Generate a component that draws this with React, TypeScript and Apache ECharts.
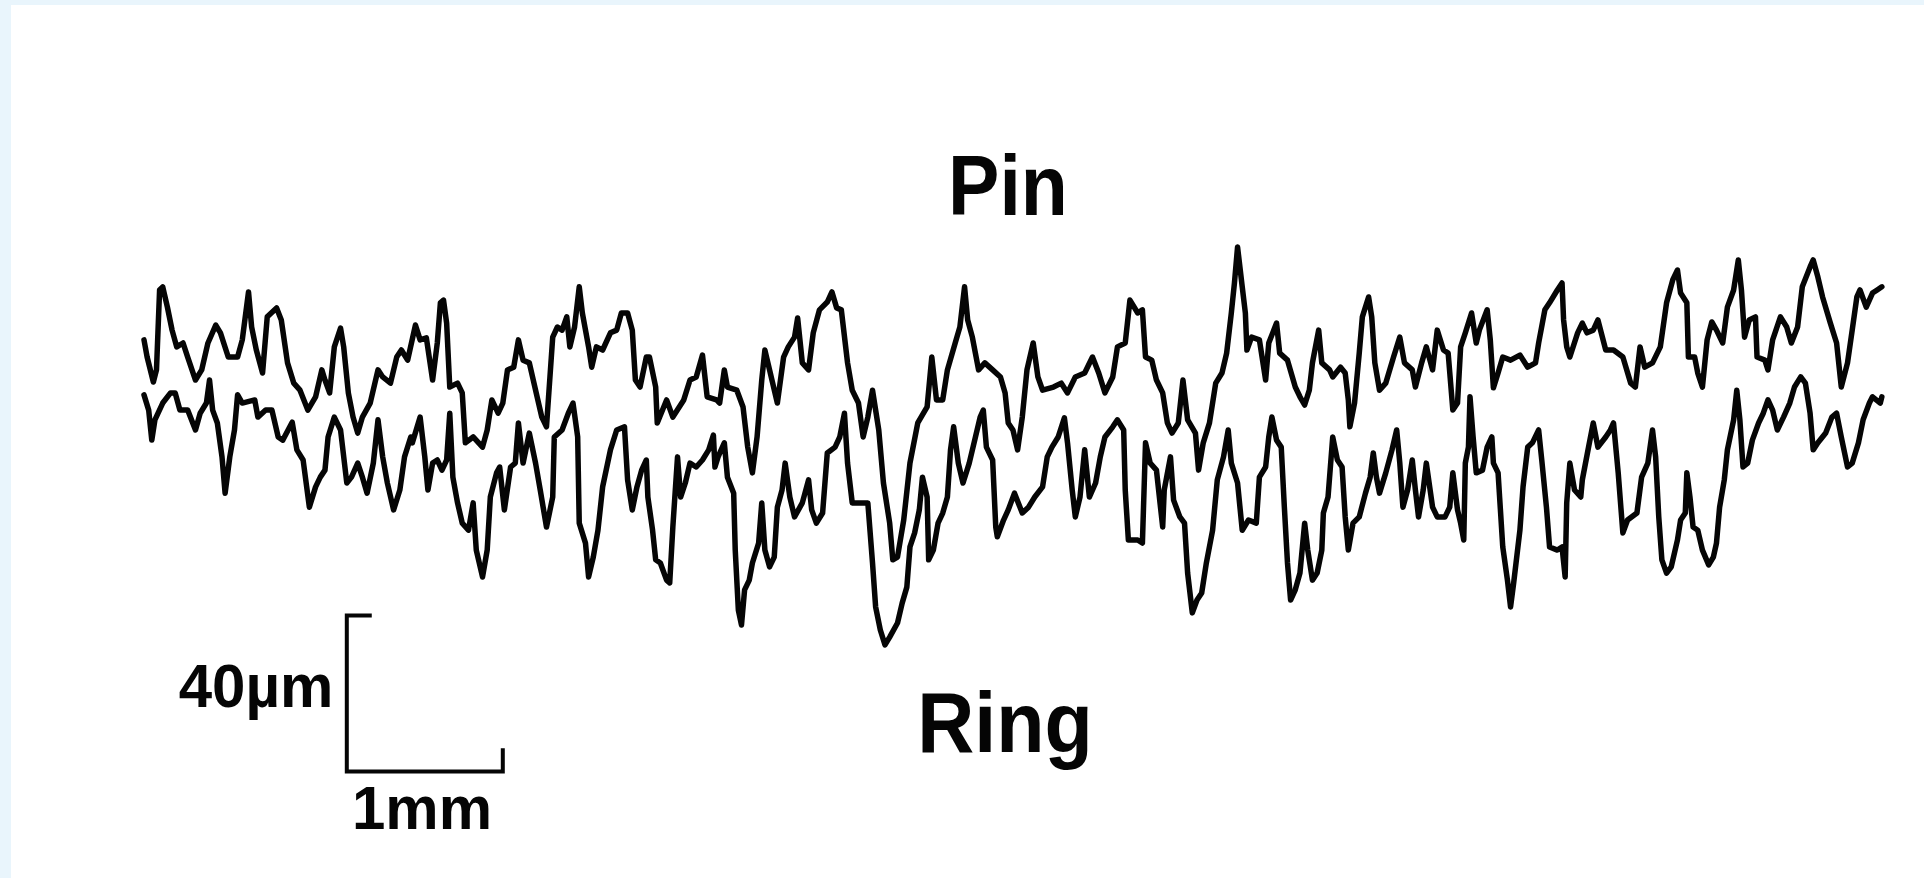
import React, { useEffect, useRef } from "react";
import * as echarts from "echarts";

// Surface roughness profiles: x = distance (mm), y = height (µm)
const pinProfile: [number, number][] = [
  [0.00, 66.7], [0.02, 62.3], [0.06, 55.9], [0.08, 59.0], [0.10, 79.5], [0.12, 80.3], [0.15, 75.1], [0.18, 69.2],
  [0.21, 64.9], [0.25, 65.9], [0.28, 62.3], [0.33, 56.4], [0.37, 59.0], [0.41, 65.9], [0.46, 70.5], [0.49, 68.5],
  [0.54, 62.3], [0.60, 62.3], [0.63, 66.7], [0.67, 79.0], [0.69, 70.0], [0.72, 64.1], [0.76, 58.2], [0.79, 72.6],
  [0.85, 74.9], [0.88, 71.8], [0.92, 60.8], [0.96, 55.6], [1.00, 53.8], [1.05, 48.7], [1.10, 52.1], [1.14, 59.0],
  [1.16, 56.4], [1.19, 53.1], [1.22, 64.9], [1.26, 69.7], [1.28, 64.9], [1.31, 53.1], [1.34, 46.9], [1.37, 42.8],
  [1.40, 46.9], [1.45, 50.5], [1.50, 59.0], [1.53, 57.2], [1.58, 55.6], [1.62, 62.3], [1.65, 64.1], [1.69, 61.5],
  [1.74, 70.5], [1.77, 66.7], [1.81, 67.2], [1.85, 56.4], [1.88, 65.9], [1.90, 76.2], [1.92, 76.9], [1.94, 71.0],
  [1.96, 54.6], [2.01, 55.6], [2.04, 53.1], [2.06, 40.3], [2.11, 41.8], [2.17, 39.2], [2.20, 43.6], [2.23, 51.3],
  [2.27, 47.9], [2.30, 50.5], [2.33, 59.0], [2.37, 59.7], [2.40, 66.7], [2.43, 61.5], [2.47, 60.8], [2.52, 52.1],
  [2.55, 46.9], [2.58, 44.4], [2.62, 67.4], [2.65, 70.0], [2.68, 69.2], [2.71, 72.6], [2.73, 64.9], [2.76, 70.0],
  [2.79, 80.3], [2.81, 73.6], [2.85, 64.9], [2.87, 59.7], [2.90, 64.9], [2.94, 64.1], [2.99, 68.5], [3.03, 69.2],
  [3.06, 73.6], [3.10, 73.6], [3.13, 69.2], [3.15, 56.4], [3.18, 54.6], [3.22, 62.3], [3.24, 62.3], [3.28, 54.6],
  [3.29, 45.4], [3.35, 51.3], [3.39, 46.9], [3.46, 51.3], [3.50, 56.4], [3.54, 57.2], [3.58, 62.8], [3.61, 52.1],
  [3.67, 51.3], [3.69, 50.5], [3.72, 59.0], [3.74, 54.6], [3.80, 53.8], [3.84, 49.5], [3.87, 39.2], [3.90, 32.6],
  [3.93, 41.8], [3.96, 56.4], [3.98, 64.1], [4.01, 59.0], [4.06, 50.5], [4.10, 62.3], [4.13, 64.9], [4.17, 67.4],
  [4.19, 72.3], [4.22, 60.8], [4.26, 59.0], [4.29, 68.5], [4.33, 74.4], [4.38, 76.4], [4.41, 79.0], [4.44, 74.9],
  [4.47, 74.4], [4.51, 60.8], [4.54, 53.8], [4.58, 50.5], [4.61, 41.8], [4.64, 46.9], [4.67, 53.8], [4.71, 43.6],
  [4.74, 30.0], [4.78, 19.7], [4.80, 10.3], [4.83, 11.0], [4.87, 20.5], [4.91, 35.1], [4.96, 45.4], [5.02, 49.5],
  [5.05, 62.3], [5.08, 51.3], [5.12, 51.3], [5.15, 59.0], [5.20, 65.9], [5.23, 70.0], [5.26, 80.3], [5.28, 71.8],
  [5.31, 67.4], [5.35, 59.0], [5.39, 60.8], [5.44, 59.0], [5.49, 57.2], [5.52, 53.1], [5.54, 45.4], [5.57, 43.6],
  [5.60, 38.5], [5.63, 46.9], [5.66, 59.0], [5.70, 65.9], [5.73, 57.2], [5.76, 53.8], [5.83, 54.6], [5.88, 55.6],
  [5.92, 53.1], [5.97, 57.2], [6.03, 58.2], [6.08, 62.3], [6.12, 58.2], [6.16, 53.1], [6.21, 57.2], [6.24, 64.9],
  [6.29, 65.9], [6.32, 76.9], [6.37, 73.6], [6.40, 74.4], [6.42, 62.3], [6.46, 61.5], [6.49, 56.4], [6.53, 53.1],
  [6.56, 45.4], [6.59, 42.8], [6.63, 45.4], [6.66, 56.4], [6.69, 46.2], [6.74, 42.8], [6.76, 33.3], [6.79, 40.3],
  [6.83, 45.4], [6.87, 55.6], [6.91, 58.2], [6.94, 63.3], [6.97, 73.6], [6.99, 81.3], [7.01, 90.5], [7.04, 80.3],
  [7.06, 73.6], [7.07, 64.1], [7.10, 67.4], [7.15, 66.7], [7.19, 56.4], [7.21, 65.9], [7.26, 71.0], [7.28, 63.3],
  [7.33, 61.5], [7.38, 54.6], [7.41, 52.1], [7.44, 50.0], [7.47, 53.8], [7.49, 60.8], [7.53, 69.2], [7.55, 60.8],
  [7.60, 59.0], [7.62, 57.2], [7.67, 59.7], [7.70, 58.2], [7.72, 51.3], [7.73, 44.4], [7.76, 50.5], [7.79, 63.3],
  [7.81, 72.6], [7.85, 77.7], [7.87, 72.6], [7.89, 60.8], [7.92, 53.8], [7.96, 55.6], [8.01, 62.3], [8.05, 67.4],
  [8.08, 60.8], [8.13, 59.0], [8.15, 54.6], [8.19, 60.8], [8.22, 64.9], [8.26, 59.0], [8.29, 69.2], [8.33, 64.1],
  [8.36, 63.3], [8.39, 48.7], [8.42, 50.5], [8.44, 64.9], [8.47, 68.5], [8.51, 73.6], [8.54, 65.9], [8.56, 69.2],
  [8.61, 74.4], [8.63, 66.7], [8.65, 54.4], [8.68, 58.2], [8.71, 62.3], [8.76, 61.5], [8.82, 62.8], [8.87, 59.7],
  [8.92, 60.8], [8.94, 65.9], [8.98, 74.4], [9.01, 76.2], [9.06, 79.5], [9.09, 81.3], [9.10, 71.8], [9.12, 64.9],
  [9.14, 62.3], [9.19, 68.5], [9.22, 71.0], [9.25, 68.5], [9.29, 69.2], [9.32, 71.8], [9.37, 64.1], [9.42, 64.1],
  [9.48, 62.3], [9.53, 55.6], [9.56, 54.6], [9.59, 64.9], [9.62, 59.7], [9.67, 60.8], [9.72, 64.9], [9.76, 76.2],
  [9.80, 82.1], [9.83, 84.6], [9.85, 78.7], [9.89, 76.2], [9.90, 62.3], [9.94, 62.3], [9.96, 58.2], [9.99, 54.6],
  [10.02, 66.7], [10.05, 71.3], [10.08, 69.2], [10.12, 65.9], [10.15, 75.1], [10.19, 79.5], [10.22, 87.2], [10.24, 79.5],
  [10.26, 67.4], [10.29, 71.8], [10.33, 72.6], [10.34, 62.3], [10.39, 61.5], [10.41, 59.0], [10.44, 66.7], [10.49, 72.6],
  [10.53, 70.0], [10.56, 65.9], [10.60, 70.0], [10.63, 80.3], [10.68, 85.4], [10.70, 87.2], [10.73, 82.8], [10.76, 77.7],
  [10.81, 71.0], [10.85, 65.9], [10.88, 54.6], [10.92, 60.8], [10.95, 69.2], [10.98, 77.7], [11.00, 79.5], [11.04, 75.1],
  [11.08, 78.7], [11.11, 79.5], [11.14, 80.3],
];

const ringProfile: [number, number][] = [
  [0.00, 52.6], [0.03, 48.7], [0.05, 41.0], [0.07, 46.2], [0.12, 50.5], [0.17, 53.1], [0.20, 53.1], [0.23, 48.7],
  [0.28, 48.7], [0.33, 43.6], [0.36, 47.9], [0.40, 50.5], [0.42, 56.4], [0.44, 48.7], [0.47, 45.4], [0.50, 36.7],
  [0.52, 27.4], [0.55, 36.7], [0.58, 43.6], [0.60, 52.6], [0.63, 50.5], [0.71, 51.3], [0.73, 46.9], [0.78, 48.7],
  [0.82, 48.7], [0.86, 41.8], [0.89, 41.0], [0.95, 45.6], [0.98, 38.5], [1.02, 35.9], [1.06, 23.8], [1.10, 29.0],
  [1.13, 31.5], [1.16, 33.3], [1.18, 41.8], [1.22, 46.9], [1.26, 43.6], [1.30, 30.0], [1.33, 31.5], [1.37, 35.1],
  [1.40, 31.5], [1.43, 27.4], [1.47, 35.1], [1.50, 46.2], [1.53, 36.7], [1.56, 30.0], [1.60, 23.1], [1.64, 28.2],
  [1.67, 36.7], [1.71, 41.8], [1.72, 40.3], [1.77, 46.9], [1.80, 36.7], [1.82, 28.2], [1.85, 35.1], [1.88, 35.9],
  [1.91, 33.3], [1.94, 35.9], [1.96, 47.9], [1.98, 31.5], [2.01, 24.9], [2.04, 19.7], [2.08, 17.9], [2.11, 24.9],
  [2.13, 12.8], [2.17, 5.9], [2.20, 12.8], [2.22, 26.4], [2.26, 32.6], [2.28, 34.1], [2.31, 23.1], [2.35, 34.1],
  [2.38, 35.1], [2.40, 45.4], [2.43, 35.1], [2.47, 42.8], [2.51, 35.1], [2.54, 28.2], [2.58, 18.7], [2.62, 26.4],
  [2.63, 41.8], [2.68, 43.6], [2.72, 47.9], [2.75, 50.5], [2.78, 41.8], [2.79, 19.7], [2.83, 14.6], [2.85, 5.9],
  [2.88, 11.0], [2.91, 17.9], [2.94, 29.0], [2.99, 38.5], [3.03, 43.6], [3.08, 44.4], [3.10, 30.8], [3.13, 23.1],
  [3.16, 29.0], [3.19, 33.3], [3.22, 35.9], [3.23, 26.4], [3.26, 17.9], [3.28, 10.3], [3.31, 9.5], [3.35, 5.1],
  [3.37, 4.4], [3.39, 18.7], [3.42, 36.7], [3.44, 26.4], [3.47, 30.0], [3.50, 35.1], [3.54, 34.1], [3.58, 35.9],
  [3.62, 38.5], [3.65, 42.3], [3.66, 34.1], [3.68, 36.7], [3.72, 40.3], [3.74, 31.5], [3.78, 27.4], [3.79, 12.8],
  [3.81, -2.6], [3.83, -6.4], [3.85, 2.6], [3.88, 5.1], [3.90, 9.5], [3.94, 14.6], [3.96, 24.9], [3.98, 12.8],
  [4.01, 8.5], [4.04, 11.0], [4.06, 23.8], [4.09, 28.2], [4.11, 35.1], [4.14, 26.4], [4.17, 21.3], [4.22, 24.9],
  [4.26, 30.8], [4.28, 23.1], [4.31, 19.7], [4.35, 22.3], [4.38, 37.7], [4.43, 39.2], [4.46, 41.8], [4.49, 47.9],
  [4.51, 35.1], [4.54, 24.9], [4.59, 24.9], [4.64, 24.9], [4.67, 9.5], [4.69, -1.8], [4.72, -7.7], [4.75, -11.5],
  [4.78, -9.5], [4.83, -5.9], [4.86, -0.8], [4.89, 3.3], [4.91, 13.6], [4.94, 17.2], [4.97, 23.1], [4.99, 31.5],
  [5.02, 26.4], [5.03, 10.3], [5.06, 12.8], [5.09, 19.7], [5.12, 22.3], [5.15, 26.4], [5.17, 38.5], [5.19, 44.4],
  [5.22, 35.1], [5.25, 30.0], [5.29, 35.1], [5.33, 41.8], [5.36, 46.9], [5.38, 48.7], [5.40, 39.2], [5.44, 35.9],
  [5.46, 18.7], [5.47, 16.2], [5.51, 20.5], [5.54, 23.1], [5.58, 27.4], [5.63, 22.3], [5.67, 23.8], [5.71, 26.4],
  [5.76, 29.0], [5.79, 36.7], [5.82, 39.2], [5.86, 41.8], [5.90, 46.7], [5.92, 40.3], [5.95, 28.2], [5.97, 21.3],
  [6.00, 26.4], [6.03, 38.5], [6.06, 26.4], [6.10, 30.0], [6.13, 36.7], [6.16, 41.8], [6.21, 44.4], [6.24, 46.2],
  [6.28, 43.6], [6.29, 28.2], [6.31, 15.4], [6.37, 15.4], [6.40, 14.6], [6.42, 40.3], [6.45, 35.1], [6.49, 33.3],
  [6.53, 18.7], [6.54, 28.2], [6.58, 36.7], [6.60, 25.6], [6.64, 21.3], [6.67, 19.7], [6.69, 6.9], [6.72, -3.3],
  [6.75, 0.0], [6.78, 1.8], [6.81, 9.5], [6.85, 17.9], [6.88, 30.8], [6.92, 36.7], [6.95, 43.6], [6.97, 35.1],
  [7.01, 30.0], [7.04, 17.9], [7.08, 20.5], [7.13, 19.7], [7.15, 31.5], [7.19, 34.1], [7.21, 41.8], [7.23, 46.9],
  [7.26, 41.0], [7.29, 39.2], [7.31, 23.8], [7.33, 9.5], [7.35, 0.0], [7.38, 2.6], [7.41, 6.9], [7.44, 19.7],
  [7.46, 12.8], [7.49, 5.1], [7.52, 6.9], [7.55, 12.8], [7.56, 22.3], [7.59, 26.4], [7.62, 41.8], [7.65, 35.9],
  [7.68, 34.1], [7.70, 21.3], [7.72, 12.8], [7.75, 19.7], [7.79, 21.3], [7.83, 27.4], [7.86, 31.5], [7.88, 37.7],
  [7.90, 31.5], [7.92, 27.4], [7.96, 32.6], [8.00, 38.5], [8.03, 43.6], [8.05, 35.1], [8.07, 23.8], [8.10, 28.2],
  [8.13, 35.9], [8.15, 28.2], [8.17, 21.3], [8.20, 28.2], [8.22, 35.1], [8.26, 23.8], [8.29, 21.3], [8.34, 21.3],
  [8.37, 23.8], [8.39, 32.6], [8.42, 23.1], [8.44, 19.7], [8.46, 15.4], [8.47, 35.1], [8.49, 39.2], [8.50, 52.1],
  [8.52, 41.8], [8.54, 32.6], [8.58, 33.3], [8.61, 39.2], [8.64, 41.8], [8.65, 35.1], [8.68, 32.6], [8.71, 13.6],
  [8.74, 5.1], [8.76, -1.8], [8.78, 4.4], [8.82, 17.9], [8.84, 29.0], [8.87, 39.2], [8.90, 40.3], [8.94, 43.6],
  [8.96, 35.9], [8.99, 23.8], [9.01, 13.6], [9.06, 12.8], [9.09, 13.6], [9.11, 5.9], [9.12, 24.9], [9.14, 35.1],
  [9.17, 28.2], [9.21, 26.4], [9.22, 30.8], [9.26, 39.2], [9.29, 45.4], [9.32, 39.2], [9.37, 41.8], [9.40, 43.6],
  [9.42, 45.4], [9.45, 32.6], [9.47, 22.3], [9.48, 17.2], [9.51, 20.5], [9.57, 22.3], [9.60, 31.5], [9.64, 35.1],
  [9.67, 43.6], [9.69, 36.7], [9.71, 21.3], [9.73, 10.3], [9.76, 6.9], [9.79, 8.5], [9.83, 15.4], [9.85, 20.5],
  [9.88, 22.3], [9.89, 32.6], [9.91, 26.4], [9.93, 18.7], [9.96, 17.9], [9.99, 12.8], [10.03, 9.0], [10.06, 11.0],
  [10.08, 14.6], [10.10, 23.8], [10.13, 30.8], [10.15, 38.5], [10.19, 46.2], [10.21, 53.8], [10.23, 46.2], [10.25, 34.1],
  [10.28, 35.1], [10.31, 41.0], [10.35, 45.4], [10.38, 47.9], [10.41, 51.3], [10.44, 48.7], [10.47, 43.6], [10.51, 46.9],
  [10.55, 50.5], [10.58, 54.6], [10.62, 57.2], [10.65, 55.6], [10.68, 47.9], [10.70, 38.5], [10.73, 40.3], [10.78, 42.8],
  [10.82, 46.9], [10.85, 47.9], [10.88, 41.8], [10.92, 34.1], [10.95, 35.1], [10.99, 40.3], [11.02, 46.2], [11.06, 50.5],
  [11.08, 52.1], [11.13, 50.5], [11.14, 52.1],
];

// Scale bar: 40 µm vertical, 1 mm horizontal
const scaleBar: [number, number][] = [
  [1.46, -4], [1.30, -4], [1.30, -44], [2.30, -44], [2.30, -38],
];

const labels = { pin: "Pin", ring: "Ring", vertical: "40µm", horizontal: "1mm" };

export default function App() {
  const ref = useRef<HTMLDivElement>(null);
  useEffect(() => {
    if (!ref.current) return;
    const chart = echarts.init(ref.current, undefined, { renderer: "svg" });
    const font = '"Liberation Sans", Arial, Helvetica, sans-serif';
    const textEl = (text: string, x: number, y: number, size: number, sy: number) => ({
      type: "text",
      x,
      y,
      scaleY: sy,
      z: 10,
      style: {
        text,
        x: 0,
        y: 0,
        fill: "#050505",
        font: `bold ${size}px ${font}`,
        align: "center",
        verticalAlign: "middle",
        textAlign: "center",
        textVerticalAlign: "middle",
      },
    });
    chart.setOption({
      animation: false,
      backgroundColor: "#ffffff",
      grid: { left: 144, right: 32.8, top: 210, bottom: 44, containLabel: false },
      xAxis: { type: "value", min: 0, max: 11.2, show: false },
      yAxis: { type: "value", min: -60, max: 100, show: false },
      graphic: [
        { type: "rect", left: 0, top: 0, z: -10, shape: { width: 1924, height: 5 }, style: { fill: "#e9f5fc" } },
        { type: "rect", left: 0, top: 0, z: -10, shape: { width: 11, height: 878 }, style: { fill: "#e9f5fc" } },
        textEl(labels.pin, 1008, 186, 77, 1.1),
        textEl(labels.ring, 1005, 723, 79, 1.07),
        textEl(labels.vertical, 256, 686, 60, 1.02),
        textEl(labels.horizontal, 422, 808, 60, 1.02),
      ],
      series: [
        {
          name: "Pin",
          type: "line",
          data: pinProfile,
          showSymbol: false,
          smooth: false,
          lineStyle: { color: "#050505", width: 5.5, join: "round", cap: "round" },
        },
        {
          name: "Ring",
          type: "line",
          data: ringProfile,
          showSymbol: false,
          smooth: false,
          lineStyle: { color: "#050505", width: 5.5, join: "round", cap: "round" },
        },
        {
          name: "Scale",
          type: "line",
          data: scaleBar,
          showSymbol: false,
          lineStyle: { color: "#050505", width: 4, join: "miter", cap: "butt" },
        },
      ],
    });
    return () => chart.dispose();
  }, []);
  return (
    <div
      ref={ref}
      style={{ position: "fixed", left: 0, top: 0, width: 1924, height: 878, background: "#fff" }}
    />
  );
}
